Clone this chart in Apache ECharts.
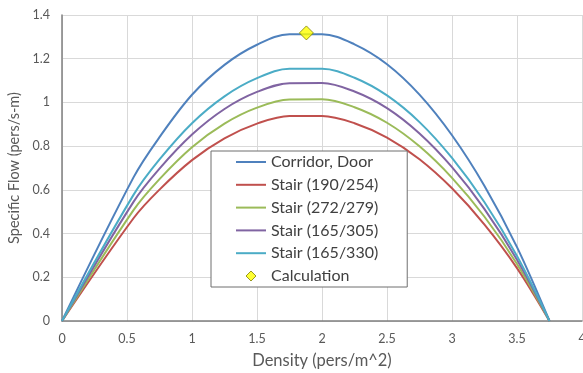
<!DOCTYPE html>
<html>
<head>
<meta charset="utf-8">
<script src="https://cdn.jsdelivr.net/npm/echarts@6/dist/echarts.min.js"></script>
<style>html,body{margin:0;padding:0;background:#fff;}#c{width:583px;height:373px;}</style>
</head>
<body>
<div id="c"></div>
<script>
const density = [0, 0.55, 0.75, 1.0, 1.25, 1.5, 1.75, 2.0, 2.25, 2.5, 2.75, 3.0, 3.25, 3.5, 3.75];
const corridorDoor = [0, 0.657, 0.841, 1.035, 1.172, 1.264, 1.312, 1.312, 1.266, 1.175, 1.036, 0.850, 0.618, 0.338, 0];
const stair190_254 = [0, 0.470, 0.601, 0.736, 0.836, 0.903, 0.938, 0.938, 0.905, 0.839, 0.740, 0.607, 0.441, 0.242, 0];
const stair272_279 = [0, 0.507, 0.649, 0.795, 0.903, 0.976, 1.013, 1.014, 0.978, 0.907, 0.799, 0.655, 0.477, 0.261, 0];
const stair165_305 = [0, 0.545, 0.697, 0.853, 0.970, 1.048, 1.088, 1.089, 1.050, 0.974, 0.858, 0.704, 0.512, 0.280, 0];
const stair165_330 = [0, 0.577, 0.739, 0.905, 1.028, 1.111, 1.154, 1.154, 1.113, 1.032, 0.910, 0.746, 0.543, 0.297, 0];
const calcPoint = [[1.88, 1.318]];
const seriesNames = ['Corridor, Door', 'Stair (190/254)', 'Stair (272/279)', 'Stair (165/305)', 'Stair (165/330)', 'Calculation'];
const seriesColors = ['#4F81BD', '#C0504D', '#9BBB59', '#8064A2', '#4BACC6'];
const seriesValues = [corridorDoor, stair190_254, stair272_279, stair165_305, stair165_330];

const font = 'Lato, "Open Sans", sans-serif';
const chart = echarts.init(document.getElementById('c'));
const lineSeries = seriesValues.map((vals, i) => ({
  name: seriesNames[i],
  type: 'line',
  data: density.map((d, j) => [d, vals[j]]),
  smooth: 0.35,
  symbol: 'none',
  lineStyle: { color: seriesColors[i], width: 2 },
  itemStyle: { color: seriesColors[i] },
  z: 2
}));
const lineIcon = 'path://M0,0 L30,0 L30,2 L0,2 Z';
const diamondIcon = 'path://M5,0 L10,5 L5,10 L0,5 Z';
chart.setOption({
  animation: false,
  backgroundColor: '#fff',
  grid: { left: 62, right: 1, top: 15, bottom: 52, outerBoundsMode: 'none', containLabel: false },
  xAxis: {
    type: 'value', min: 0, max: 4, interval: 0.5,
    name: 'Density (pers/m^2)', nameLocation: 'middle', nameGap: 31,
    nameTextStyle: { fontSize: 16.5, color: '#595959', fontFamily: font },
    axisLine: { show: true, onZero: false, lineStyle: { color: '#7f7f7f', width: 1.5 } },
    axisTick: { show: false },
    axisLabel: { fontSize: 12.5, color: '#595959', fontFamily: font, margin: 11 },
    splitLine: { show: true, lineStyle: { color: '#d9d9d9', width: 1 } }
  },
  yAxis: {
    type: 'value', min: 0, max: 1.4, interval: 0.2,
    name: 'Specific Flow (pers/s-m)', nameLocation: 'middle', nameGap: 35,
    nameTextStyle: { fontSize: 14.5, color: '#595959', fontFamily: font },
    axisLine: { show: true, onZero: false, lineStyle: { color: '#7f7f7f', width: 1.5 } },
    axisTick: { show: false },
    axisLabel: { fontSize: 12.5, color: '#595959', fontFamily: font, margin: 12 },
    splitLine: { show: true, lineStyle: { color: '#d9d9d9', width: 1 } }
  },
  legend: {
    orient: 'vertical', left: 211, top: 151,
    padding: [3, 29, 3, 25],
    itemWidth: 30, itemHeight: 10, itemGap: 6.8,
    symbolKeepAspect: true,
    backgroundColor: '#fff', borderColor: '#6f6f6f', borderWidth: 1,
    textStyle: { fontSize: 16, lineHeight: 16, color: '#404040', fontFamily: font },
    data: seriesNames.map((n, i) => ({
      name: n,
      icon: i < 5 ? lineIcon : diamondIcon,
      itemStyle: i < 5 ? { color: seriesColors[i] } : { color: '#FFFF00', borderColor: '#7F7F00', borderWidth: 1 }
    }))
  },
  series: lineSeries.concat([{
    name: 'Calculation',
    type: 'scatter',
    data: calcPoint,
    symbol: 'diamond',
    symbolSize: 14,
    itemStyle: { color: '#FFFF00', borderColor: '#7F7F00', borderWidth: 1 },
    z: 5
  }])
});
</script>
</body>
</html>
